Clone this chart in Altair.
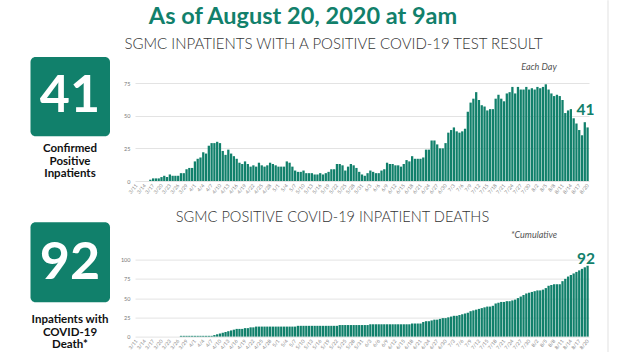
import altair as alt
import pandas as pd

# ---- data ----
dates = pd.date_range("2020-03-11", "2020-08-20", freq="D")
days = [f"{d.month}/{d.day}" for d in dates]

positive_each_day = [
    0, 0, 0, 0, 0,
    1, 2, 2, 2, 3,
    4, 3, 5, 4, 4,
    4, 6, 6, 9, 10,
    10, 15, 17, 18, 22,
    21, 27, 29, 29, 30,
    29, 23, 20, 24, 21,
    19, 17, 14, 13, 15,
    13, 11, 12, 11, 14,
    12, 11, 12, 14, 13,
    12, 11, 11, 11, 15,
    14, 11, 8, 7, 7,
    8, 6, 6, 6, 5,
    5, 6, 5, 6, 7,
    9, 9, 13, 13, 12,
    8, 11, 13, 12, 10,
    7, 5, 4, 6, 8,
    7, 6, 6, 8, 9,
    14, 13, 13, 12, 12,
    11, 13, 16, 15, 19,
    17, 17, 17, 18, 24,
    24, 31, 31, 28, 25,
    25, 29, 37, 39, 41,
    38, 37, 38, 40, 53,
    60, 63, 68, 62, 58,
    57, 54, 55, 55, 63,
    66, 63, 61, 67, 68,
    72, 67, 72, 70, 70,
    72, 70, 71, 70, 72,
    71, 72, 74, 70, 67,
    65, 66, 65, 62, 52,
    54, 55, 48, 44, 39,
    35, 45, 41,
]

deaths_cumulative = [
    0, 0, 0, 0, 0, 0, 0, 0, 0, 0, 0, 0, 0, 0, 0, 0,
    1, 1, 1, 1, 1, 1, 1, 1, 1, 1, 1, 1,
    2, 3, 4, 5, 6, 7, 8, 9, 10, 10, 10, 11, 11, 12, 12,
    13, 13, 13, 13, 13, 13, 13, 13, 13, 13, 13, 13, 13, 13, 13,
    14, 14, 14, 14, 14, 14, 14, 14, 14, 14, 14, 14, 14, 14, 14,
    15, 15, 15, 15, 15, 15, 15, 15, 15, 15, 15,
    16, 16, 16, 16, 16, 16, 16, 16, 16, 16, 16, 16, 16, 16, 16,
    17, 17, 17, 17,
    19, 20, 20, 21, 22, 22, 23, 24, 24, 25,
    26, 27, 27, 28, 29, 30, 31, 33, 34, 35,
    36, 37, 38, 39, 39, 40, 43, 44, 45, 45,
    46, 46, 47, 48, 50, 52, 54, 56, 57, 58,
    59, 60, 60, 61, 63, 66, 67, 68, 68, 68,
    72, 75, 78, 80, 82, 84, 86, 88, 90, 92,
]

top_ticks = [0, 25, 50, 75]
bottom_ticks = [0, 25, 50, 75, 100]

TEAL = "#11806b"
FONT = "Lato"
W = 454
H_TOP = 98
H_BOT = 77

one = pd.DataFrame({"k": [0]})


def txt(s, x, y, size, color="#222", weight="normal", style="normal", align="center", baseline="middle"):
    return alt.Chart(one).mark_text(
        text=s, fontSize=size, fontWeight=weight, fontStyle=style, color=color,
        font=FONT, align=align, baseline=baseline,
    ).encode(x=alt.value(x), y=alt.value(y))


def box(x1, x2, y1, y2, color, radius=0):
    return alt.Chart(one).mark_rect(color=color, cornerRadius=radius).encode(
        x=alt.value(x1), x2=alt.value(x2), y=alt.value(y1), y2=alt.value(y2)
    )


def bars(values, domain, ticks, height):
    df = pd.DataFrame({"day": days, "value": values})
    return alt.Chart(df).mark_bar(color=TEAL).encode(
        x=alt.X(
            "day:O", sort=days,
            scale=alt.Scale(paddingInner=0.18, paddingOuter=0.1),
            axis=alt.Axis(
                values=days[::3], labelAngle=-50, labelFontSize=5, labelColor="#888",
                ticks=False, domain=False, labelPadding=3, title=None, labelFont=FONT,
            ),
        ),
        y=alt.Y(
            "value:Q", scale=alt.Scale(domain=domain, nice=False),
            axis=alt.Axis(
                values=ticks, labelFontSize=5.5, labelColor="#777", ticks=False,
                domain=False, gridColor="#e3e3e3", title=None, labelPadding=5, labelFont=FONT,
            ),
        ),
    )


# top panel (origin = top plot's top-left, at page x=135, y=82.7)
top = alt.layer(
    box(-135, 487, -82.7, 269.3, "transparent"),
    box(472.5, 473.5, -82.7, 269.3, "#e2e2e2"),
    bars(positive_each_day, [0, 75], top_ticks, H_TOP),
    txt("As of August 20, 2020 at 9am", 168, -59.5, 23.5, color=TEAL, weight="bold", baseline="alphabetic"),
    txt("SGMC INPATIENTS WITH A POSITIVE COVID-19 TEST RESULT", 198.5, -39.5, 15, color="#333", weight=300),
    txt("Each Day", 404, -15.7, 9, color="#555", style="italic"),
    txt("41", 450.5, 27.3, 15.5, color=TEAL, weight="bold"),
    box(-104.5, -25, -26, 53.3, TEAL, radius=5),
    txt("41", -65, 13, 52, color="white", weight="bold"),
    txt("Confirmed", -65, 66.3, 11.5, color="#111", weight="bold"),
    txt("Positive", -65, 78.6, 11.5, color="#111", weight="bold"),
    txt("Inpatients", -65, 90.9, 11.5, color="#111", weight="bold"),
).properties(width=W, height=H_TOP)

# bottom panel (origin = bottom plot's top-left, at page x=135, y=259.3)
bottom = alt.layer(
    bars(deaths_cumulative, [0, 100], bottom_ticks, H_BOT),
    txt("SGMC POSITIVE COVID-19 INPATIENT DEATHS", 197.5, -41.3, 14.6, color="#333", weight=300),
    txt("*Cumulative", 399, -24.3, 9, color="#555", style="italic"),
    txt("92", 451, -0.3, 15.5, color=TEAL, weight="bold"),
    box(-104.5, -25, -37.3, 42.7, TEAL, radius=5),
    txt("92", -65, 3, 52, color="white", weight="bold"),
    txt("Inpatients with", -65, 60.7, 11.5, color="#111", weight="bold"),
    txt("COVID-19", -65, 72.9, 11.5, color="#111", weight="bold"),
    txt("Death*", -65, 85.1, 11.5, color="#111", weight="bold"),
).properties(width=W, height=H_BOT)

chart = alt.vconcat(top, bottom, spacing=78.6, bounds="flush").properties(
    padding=0, background="white"
).configure_view(stroke=None)

chart.save("out.html", embed_options={"renderer": "svg", "actions": False})
